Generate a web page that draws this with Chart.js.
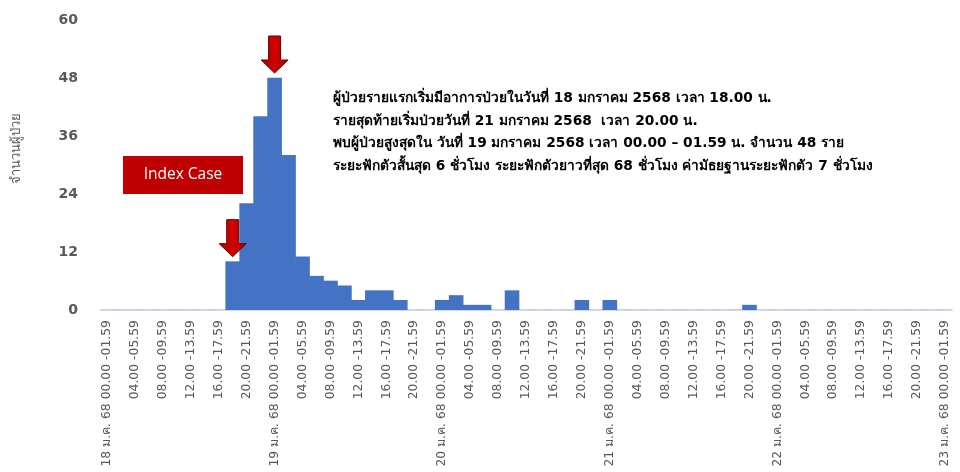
<!DOCTYPE html>
<html>
<head>
<meta charset="utf-8">
<script src="https://cdn.jsdelivr.net/npm/chart.js@4/dist/chart.umd.min.js"></script>
<style>
  html, body { margin: 0; padding: 0; background: #ffffff; }
  #wrap { width: 960px; height: 472px; position: relative; }
</style>
</head>
<body>
<div id="wrap"><canvas id="epi"></canvas></div>
<script>
// Onset days and 2-hour time slots of the epidemic curve
const days = ['18 ม.ค. 68', '19 ม.ค. 68', '20 ม.ค. 68', '21 ม.ค. 68', '22 ม.ค. 68', '23 ม.ค. 68'];
const slots = ['00.00 -01.59', '02.00 -03.59', '04.00 -05.59', '06.00 -07.59',
               '08.00 -09.59', '10.00 -11.59', '12.00 -13.59', '14.00 -15.59',
               '16.00 -17.59', '18.00 -19.59', '20.00 -21.59', '22.00 -23.59'];

// Number of cases per 2-hour slot, 18 Jan 00.00 through 23 Jan 00.00
const cases = [
  0, 0, 0, 0, 0, 0, 0, 0, 0, 10, 22, 40,     // 18 ม.ค.
  48, 32, 11, 7, 6, 5, 2, 4, 4, 2, 0, 0,      // 19 ม.ค.
  2, 3, 1, 1, 0, 4, 0, 0, 0, 0, 2, 0,         // 20 ม.ค.
  2, 0, 0, 0, 0, 0, 0, 0, 0, 0, 1, 0,         // 21 ม.ค.
  0, 0, 0, 0, 0, 0, 0, 0, 0, 0, 0, 0,         // 22 ม.ค.
  0                                            // 23 ม.ค.
];

// Y axis tick values
const yTicks = [0, 12, 24, 36, 48, 60];

// Slots marked with an arrow: the index case and the peak
const arrowSlots = [9, 12];

const yTitle = 'จำนวนผู้ป่วย';
const boxText = 'Index Case';
const notes = [
  'ผู้ป่วยรายแรกเริ่มมีอาการป่วยในวันที่ 18 มกราคม 2568 เวลา 18.00 น.',
  'รายสุดท้ายเริ่มป่วยวันที่ 21 มกราคม 2568  เวลา 20.00 น.',
  'พบผู้ป่วยสูงสุดใน วันที่ 19 มกราคม 2568 เวลา 00.00 – 01.59 น. จำนวน 48 ราย',
  'ระยะฟักตัวสั้นสุด 6 ชั่วโมง ระยะฟักตัวยาวที่สุด 68 ชั่วโมง ค่ามัธยฐานระยะฟักตัว 7 ชั่วโมง'
];

// Category labels: the first slot of each day carries the date
const categories = cases.map((_, i) => {
  const d = Math.floor(i / slots.length);
  const s = i % slots.length;
  return s === 0 ? days[d] + ' ' + slots[s] : slots[s];
});

const THAI = '"DejaVu Sans", "Noto Sans", Tahoma, sans-serif';

function drawArrow(ctx, cx, tip) {
  const h = 37, headH = 13, headW = 13.5, shaftW = 6;
  ctx.save();
  const g = ctx.createLinearGradient(cx - headW, 0, cx + headW, 0);
  g.addColorStop(0, '#9a0000');
  g.addColorStop(0.5, '#d40000');
  g.addColorStop(1, '#a00000');
  ctx.beginPath();
  ctx.moveTo(cx - shaftW, tip - h);
  ctx.lineTo(cx + shaftW, tip - h);
  ctx.lineTo(cx + shaftW, tip - headH);
  ctx.lineTo(cx + headW, tip - headH);
  ctx.lineTo(cx, tip);
  ctx.lineTo(cx - headW, tip - headH);
  ctx.lineTo(cx - shaftW, tip - headH);
  ctx.closePath();
  ctx.fillStyle = g;
  ctx.fill();
  ctx.lineWidth = 1;
  ctx.strokeStyle = '#6a0000';
  ctx.stroke();
  ctx.restore();
}

const annotations = {
  id: 'annotations',
  afterDatasetsDraw(chart) {
    const { ctx, scales: { x, y } } = chart;

    // Arrows above the marked slots
    arrowSlots.forEach(i => {
      drawArrow(ctx, x.getPixelForValue(i), y.getPixelForValue(cases[i]) - 5);
    });

    // "Index Case" label box
    ctx.save();
    ctx.fillStyle = '#c00000';
    ctx.fillRect(123, 156, 120, 38);
    ctx.fillStyle = '#ffffff';
    ctx.font = '15.5px "Open Sans", "Noto Sans", sans-serif';
    ctx.textAlign = 'center';
    ctx.textBaseline = 'middle';
    ctx.fillText(boxText, 183, 175);
    ctx.restore();

    // Summary notes
    ctx.save();
    ctx.fillStyle = '#000000';
    ctx.textAlign = 'left';
    ctx.textBaseline = 'alphabetic';
    let size = 14;
    ctx.font = 'bold ' + size + 'px ' + THAI;
    const w = ctx.measureText(notes[3]).width;
    size = Math.max(10, Math.min(18, size * 552 / w));
    ctx.font = 'bold ' + size.toFixed(2) + 'px ' + THAI;
    notes.forEach((line, k) => ctx.fillText(line, 333, 102 + k * 22.6));
    ctx.restore();

    // Y axis title
    ctx.save();
    ctx.translate(17, 148);
    ctx.rotate(-Math.PI / 2);
    ctx.fillStyle = '#595959';
    ctx.font = '13px ' + THAI;
    ctx.textAlign = 'center';
    ctx.textBaseline = 'middle';
    ctx.fillText(yTitle, 0, 0);
    ctx.restore();
  }
};

new Chart(document.getElementById('epi'), {
  type: 'bar',
  data: {
    labels: categories,
    datasets: [{
      data: cases,
      backgroundColor: '#4472c4',
      borderWidth: 0,
      barPercentage: 1.0,
      categoryPercentage: 1.0
    }]
  },
  options: {
    responsive: true,
    maintainAspectRatio: false,
    animation: false,
    layout: { padding: { top: 20, right: 8, left: 0, bottom: 0 } },
    plugins: {
      legend: { display: false },
      tooltip: { enabled: false }
    },
    scales: {
      x: {
        grid: { display: false, drawTicks: false },
        border: { display: true, color: '#d9d9d9', width: 1 },
        afterFit: s => { s.height = 162; s.paddingLeft = 0; s.paddingRight = 0; },
        ticks: {
          autoSkip: false,
          minRotation: 90,
          maxRotation: 90,
          padding: 10,
          color: '#595959',
          font: { family: THAI, size: 12.4 },
          callback: (v, i) => (i % 2 === 0 ? categories[i] : '')
        }
      },
      y: {
        min: 0,
        max: 60,
        grid: { display: false, drawTicks: false },
        border: { display: false },
        afterFit: s => { s.width = 100; s.paddingTop = 0; s.paddingBottom = 0; },
        afterBuildTicks: s => { s.ticks = yTicks.map(v => ({ value: v })); },
        ticks: {
          padding: 22,
          color: '#595959',
          font: { family: '"DejaVu Sans", Verdana, sans-serif', size: 14, weight: 'bold' }
        }
      }
    }
  },
  plugins: [annotations]
});
</script>
</body>
</html>
